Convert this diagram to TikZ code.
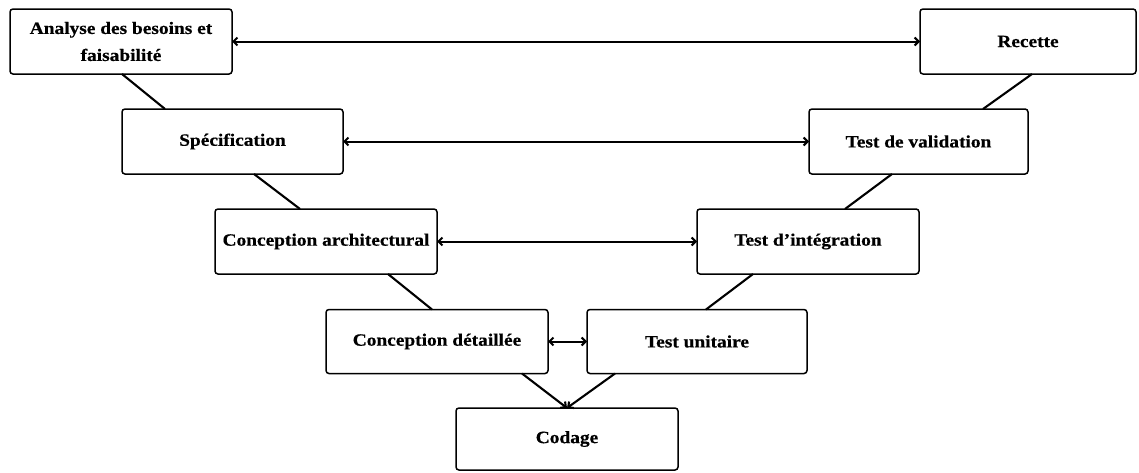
\documentclass[tikz,border=0pt]{standalone}
\usepackage{fontspec}
\setmainfont{Liberation Serif}[FakeStretch=1.12, BoldFeatures={FakeBold=0.5}]
\usetikzlibrary{arrows.meta}
\begin{document}
\begin{tikzpicture}[x=1pt,y=-1pt,
  phase/.style={draw=black, line width=1.5pt, rounded corners=3pt, fill=white,
    inner sep=0pt, outer sep=0pt, align=center,
    font=\bfseries\fontsize{17.3}{27}\selectfont},
  link/.style={line width=2.1pt},
  twoway/.style={line width=2pt, {Straight Barb[length=4pt,width=8pt]}-{Straight Barb[length=4pt,width=8pt]}},
  oneway/.style={line width=2.1pt, -{Straight Barb[length=4pt,width=8pt]}}]
\useasboundingbox (0,0) rectangle (1139,472);
\fill[white] (0,0) rectangle (1139,472);

% left branch of the V
\node[phase, minimum width=222pt, minimum height=65pt] (ana) at (121,41.5) {Analyse des besoins et\\faisabilité};
\node[phase, minimum width=221pt, minimum height=65pt] (spec) at (232.5,141.5) {Spécification};
\node[phase, minimum width=222pt, minimum height=65pt] (arch) at (326,241.5) {Conception architectural};
\node[phase, minimum width=222pt, minimum height=64pt] (det) at (437,341.5) {Conception détaillée};

% right branch of the V
\node[phase, minimum width=216pt, minimum height=65pt] (rec) at (1028,41.5) {Recette};
\node[phase, minimum width=219pt, minimum height=65pt] (val) at (918.5,141.5) {Test de validation};
\node[phase, minimum width=222pt, minimum height=65pt] (integ) at (808,241.5) {Test d’intégration};
\node[phase, minimum width=220pt, minimum height=64pt] (unit) at (697,341.5) {Test unitaire};

% bottom of the V
\node[phase, minimum width=222pt, minimum height=62pt] (cod) at (567,439) {Codage};

% descending branch
\draw[link] ([xshift=112pt]ana.south west) -- ([xshift=43pt]spec.north west);
\draw[link] ([xshift=132pt]spec.south west) -- ([xshift=85pt]arch.north west);
\draw[link] ([xshift=173pt]arch.south west) -- ([xshift=106pt]det.north west);
\draw[oneway] ([xshift=196pt]det.south west) -- (cod.north);

% ascending branch
\draw[link] ([xshift=112pt]rec.south west) -- ([xshift=174pt]val.north west);
\draw[link] ([xshift=83pt]val.south west) -- ([xshift=148pt]integ.north west);
\draw[link] ([xshift=56pt]integ.south west) -- ([xshift=119pt]unit.north west);
\draw[oneway] ([xshift=28pt]unit.south west) -- (cod.north);

% correspondences between the two branches
\draw[twoway] (ana.east) -- (rec.west);
\draw[twoway] (spec.east) -- (val.west);
\draw[twoway] (arch.east) -- (integ.west);
\draw[twoway] (det.east) -- (unit.west);
\end{tikzpicture}
\end{document}
